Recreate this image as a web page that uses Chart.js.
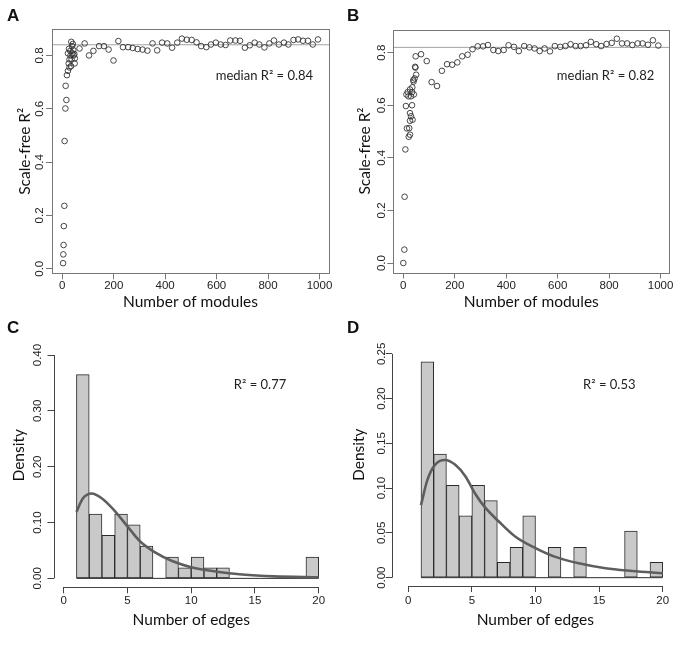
<!DOCTYPE html>
<html><head><meta charset="utf-8">
<script src="https://cdn.jsdelivr.net/npm/chart.js@4.4.1/dist/chart.umd.min.js"></script>
<style>
html,body{margin:0;padding:0;background:#fff;}
#wrap{position:relative;width:683px;height:648px;overflow:hidden;background:#fff;}
canvas{position:absolute;}
.lab{position:absolute;font:bold 17px "Liberation Sans",Arial,sans-serif;line-height:17px;color:#111;}
</style></head><body>
<div id="wrap">
<canvas id="cA" width="340" height="318" style="left:0;top:0;width:340px;height:318px"></canvas>
<canvas id="cB" width="343" height="318" style="left:340px;top:0;width:343px;height:318px"></canvas>
<canvas id="cC" width="340" height="330" style="left:0;top:318px;width:340px;height:330px"></canvas>
<canvas id="cD" width="343" height="330" style="left:340px;top:318px;width:343px;height:330px"></canvas>
<div class="lab" style="left:7px;top:7px">A</div>
<div class="lab" style="left:347px;top:7px">B</div>
<div class="lab" style="left:7px;top:319px">C</div>
<div class="lab" style="left:347px;top:319px">D</div>
</div>
<script>
// ---------- DATA ----------
// Panel A: number of modules vs scale-free R^2
const aModules = [3,4,5,6,8,9,12,16,13,18,22,28,34,25,48,28,36,49,22,31,39,44,47,26,41,35,38,43,32,
  67,87,104,121,143,162,180,199,218,236,256,274,293,312,331,351,369,388,408,427,447,465,484,503,522,540,
  560,578,597,616,635,653,673,691,710,729,748,766,786,805,823,842,862,879,899,917,936,955,974,994];
const aR2 = [0.021,0.054,0.089,0.160,0.236,0.479,0.601,0.633,0.686,0.726,0.742,0.755,0.760,0.770,0.770,0.785,0.785,0.789,0.808,0.817,0.808,0.800,0.805,0.825,0.843,0.851,0.835,0.820,0.800,
  0.826,0.845,0.800,0.817,0.835,0.835,0.822,0.781,0.854,0.831,0.831,0.828,0.824,0.822,0.818,0.845,0.819,0.848,0.845,0.829,0.848,0.863,0.859,0.858,0.849,0.835,
  0.831,0.841,0.848,0.841,0.839,0.856,0.856,0.855,0.829,0.838,0.848,0.841,0.830,0.845,0.856,0.841,0.848,0.841,0.858,0.860,0.855,0.855,0.841,0.860];
const aMedian = 0.84;

// Panel B
const bModules = [0,4,5,8,10,12,14,17,20,21,23,26,26,26,26,30,30,34,34,36,35,39,40,41,44,46,47,50,48,
  69,91,110,131,150,170,190,210,229,250,269,289,310,329,350,369,390,409,430,449,470,490,510,530,549,570,
  589,610,630,650,670,689,710,729,750,769,790,810,830,850,870,890,911,930,951,970,991];
const bR2 = [0.000,0.051,0.252,0.432,0.597,0.641,0.512,0.650,0.634,0.480,0.513,0.488,0.541,0.570,0.660,0.558,0.634,0.600,0.650,0.545,0.668,0.696,0.690,0.641,0.702,0.746,0.743,0.716,0.786,
  0.794,0.768,0.688,0.673,0.731,0.756,0.754,0.763,0.786,0.792,0.813,0.824,0.824,0.829,0.810,0.806,0.810,0.828,0.822,0.806,0.825,0.820,0.816,0.806,0.816,0.805,
  0.825,0.822,0.825,0.832,0.825,0.825,0.828,0.841,0.832,0.825,0.833,0.837,0.853,0.835,0.835,0.829,0.835,0.835,0.830,0.847,0.827];
const bMedian = 0.82;

// Panels C & D: histogram of number of edges
const binCenters = [1.5,2.5,3.5,4.5,5.5,6.5,7.5,8.5,9.5,10.5,11.5,12.5,13.5,14.5,15.5,16.5,17.5,18.5,19.5];
const binRange = [1, 20];
const cDensity = [0.365,0.115,0.077,0.115,0.096,0.058,0,0.038,0.019,0.038,0.019,0.019,0,0,0,0,0,0,0.038];
const dDensity = [0.241,0.138,0.103,0.069,0.103,0.086,0.017,0.034,0.069,0,0.034,0,0.034,0,0,0,0.052,0,0.017];
const cFitX = [1.0,1.5,2.2,3.0,4.0,5.0,6.0,7.2,8.5,10.0,12.0,14.0,16.5,20.0];
const cFitY = [0.119,0.143,0.152,0.143,0.121,0.093,0.066,0.046,0.031,0.020,0.012,0.0068,0.0035,0.0018];
const dFitX = [1.0,1.5,2.1,2.9,3.7,4.5,5.25,6.0,7.1,8.4,10.0,11.5,13.4,15.5,17.6,20.0];
const dFitY = [0.081,0.109,0.126,0.1315,0.126,0.113,0.094,0.079,0.063,0.046,0.033,0.0235,0.016,0.0105,0.0075,0.0049];

// Tick labels
const modTicks = [0,200,400,600,800,1000];
const r2Ticks = [0,0.2,0.4,0.6,0.8];
const edgeTicks = [0,5,10,15,20];
const cDensTicks = [0,0.1,0.2,0.3,0.4];
const dDensTicks = [0,0.05,0.1,0.15,0.2,0.25];

// ---------- RENDERING ----------
const tickFont = {family:'"Liberation Sans", Arial, sans-serif', size:11.5};
const titleFont = {family:'Lato, "Open Sans", sans-serif', size:15.5};
const annotFont = '13px Lato, "Open Sans", sans-serif';
const txtColor = '#222';

const framePlugin = {
  id:'frame',
  afterDatasetsDraw(chart, args, o){
    const {ctx, chartArea:a, scales} = chart;
    ctx.save();
    ctx.strokeStyle = o.color; ctx.lineWidth = 1;
    if (o.box){
      ctx.strokeRect(Math.round(a.left)+0.5, Math.round(a.top)+0.5, Math.round(a.right)-Math.round(a.left), Math.round(a.bottom)-Math.round(a.top));
    } else {
      const xs = scales.x, ys = scales.y;
      const xt = xs.ticks, yt = ys.ticks;
      const yb = Math.round(a.bottom)+0.5, xl = Math.round(a.left)+0.5;
      ctx.beginPath();
      ctx.moveTo(xs.getPixelForValue(xt[0].value), yb);
      ctx.lineTo(xs.getPixelForValue(xt[xt.length-1].value), yb);
      ctx.moveTo(xl, ys.getPixelForValue(yt[0].value));
      ctx.lineTo(xl, ys.getPixelForValue(yt[yt.length-1].value));
      ctx.stroke();
    }
    ctx.restore();
  }
};
const annotPlugin = {
  id:'annot',
  afterDraw(chart, args, o){
    if (!o.text) return;
    const {ctx, scales} = chart;
    ctx.save();
    ctx.font = annotFont; ctx.fillStyle = txtColor;
    ctx.textAlign = 'center'; ctx.textBaseline = 'middle';
    ctx.fillText(o.text, scales.x.getPixelForValue(o.x), scales.y.getPixelForValue(o.y));
    ctx.restore();
  }
};

function build(id, P){
  const fmt = d => v => Number(v).toFixed(d);
  return new Chart(document.getElementById(id), {
    type: P.type,
    data: {datasets: P.datasets},
    plugins: [framePlugin, annotPlugin],
    options: {
      responsive:false, animation:false, events:[], devicePixelRatio:1,
      layout:{padding:{left:0, top:P.area.t, right:P.W-P.area.r, bottom:0}},
      plugins:{legend:{display:false}, tooltip:{enabled:false},
        frame:{box:P.box, color:P.axisColor}, annot:P.annot},
      scales:{
        x:{type:'linear', min:P.x.min, max:P.x.max, offset:false,
          afterBuildTicks:s=>{ s.ticks = P.x.ticks.map(v=>({value:v})); },
          afterFit:s=>{ s.height = P.H - P.area.b; },
          grid:{display:true, drawOnChartArea:false, drawTicks:true, tickLength:6, color:P.axisColor, offset:false},
          border:{display:false},
          ticks:{autoSkip:false, minRotation:0, maxRotation:0, padding:P.x.tickPad, font:tickFont, color:txtColor, callback:fmt(P.x.dec)},
          title:{display:true, text:P.x.title, font:titleFont, color:'#111', padding:{top:0, bottom:P.x.titlePad}}
        },
        y:{type:'linear', min:P.y.min, max:P.y.max, beginAtZero:false,
          afterBuildTicks:s=>{ s.ticks = P.y.ticks.map(v=>({value:v})); },
          afterFit:s=>{ s.width = P.area.l; },
          grid:{display:true, drawOnChartArea:false, drawTicks:true, tickLength:6, color:P.axisColor},
          border:{display:false},
          ticks:{autoSkip:false, minRotation:90, maxRotation:90, crossAlign:'center', padding:P.y.tickPad, font:tickFont, color:txtColor, callback:fmt(P.y.dec)},
          title:{display:true, text:P.y.title, font:titleFont, color:'#111', padding:{top:P.y.titlePad, bottom:0}}
        }
      }
    }
  });
}

function scatterSets(xs, ys, median, xmin, xmax){
  return [
    {type:'line', data:[{x:xmin,y:median},{x:xmax,y:median}], borderColor:'#a3a3a3', borderWidth:1, pointRadius:0, order:1},
    {type:'scatter', data:xs.map((x,i)=>({x, y:ys[i]})), pointStyle:'circle', pointRadius:2.8, borderWidth:0.9,
      borderColor:'#333', backgroundColor:'rgba(0,0,0,0)', order:0}
  ];
}
function histSets(dens, fx, fy){
  return [
    {type:'bar', data:binCenters.map((x,i)=>({x, y:dens[i]})), backgroundColor:'#c9c9c9', borderColor:'#2b2b2b',
      borderWidth:1, borderSkipped:false, barPercentage:1, categoryPercentage:1, grouped:false, order:2},
    {type:'line', data:[{x:binRange[0],y:0},{x:binRange[1],y:0}], borderColor:'#2b2b2b', borderWidth:1, pointRadius:0, order:1},
    {type:'line', data:fx.map((x,i)=>({x, y:fy[i]})), borderColor:'#5e5e5e', borderWidth:2.6, pointRadius:0,
      cubicInterpolationMode:'monotone', order:0}
  ];
}

build('cA', {type:'scatter', W:340, H:318, area:{l:52, t:29.3, r:329, b:273.3}, box:true, axisColor:'#777',
  x:{min:-40, max:1037, ticks:modTicks, dec:0, tickPad:0, title:'Number of modules', titlePad:6.8},
  y:{min:-0.017, max:0.898, ticks:r2Ticks, dec:1, tickPad:-2, title:'Scale-free R²', titlePad:15.7},
  datasets:scatterSets(aModules, aR2, aMedian, -40, 1037),
  annot:{text:'median R² = ' + aMedian.toFixed(2), x:786, y:0.7225}});

build('cB', {type:'scatter', W:343, H:318, area:{l:53.3, t:29.5, r:329.3, b:272.5}, box:true, axisColor:'#777',
  x:{min:-38.9, max:1033.8, ticks:modTicks, dec:0, tickPad:0, title:'Number of modules', titlePad:6.8},
  y:{min:-0.036, max:0.888, ticks:r2Ticks, dec:1, tickPad:-2.2, title:'Scale-free R²', titlePad:15.7},
  datasets:scatterSets(bModules, bR2, bMedian, -38.9, 1033.8),
  annot:{text:'median R² = ' + bMedian.toFixed(2), x:786, y:0.711}});

build('cC', {type:'bar', W:340, H:330, area:{l:53.5, t:4.6, r:328.9, b:269.3}, box:false, axisColor:'#444',
  x:{min:-0.8, max:20.8, ticks:edgeTicks, dec:0, tickPad:0.5, title:'Number of edges', titlePad:18.5},
  y:{min:-0.016, max:0.457, ticks:cDensTicks, dec:2, tickPad:-1.7, title:'Density', titlePad:9.7},
  datasets:histSets(cDensity, cFitX, cFitY),
  annot:{text:'R² = 0.77', x:15.4, y:0.347}});

build('cD', {type:'bar', W:343, H:330, area:{l:51.7, t:5.4, r:338.9, b:268}, box:false, axisColor:'#444',
  x:{min:-1.3, max:21.27, ticks:edgeTicks, dec:0, tickPad:1.8, title:'Number of edges', titlePad:18.5},
  y:{min:-0.0093, max:0.284, ticks:dDensTicks, dec:2, tickPad:-7.2, title:'Density', titlePad:9.7},
  datasets:histSets(dDensity, dFitX, dFitY),
  annot:{text:'R² = 0.53', x:15.8, y:0.215}});
</script>
</body></html>
